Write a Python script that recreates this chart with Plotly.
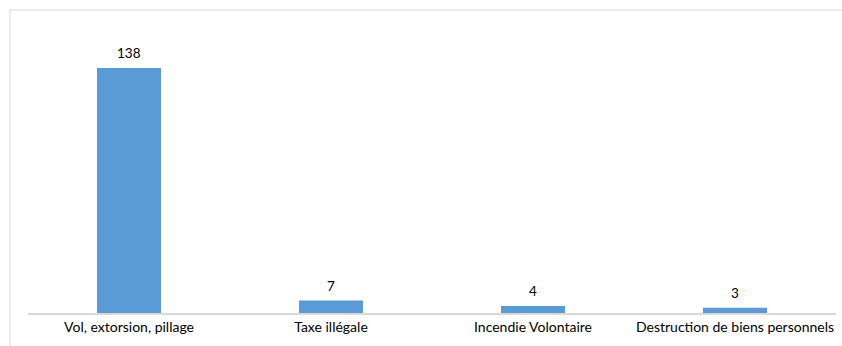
import plotly.graph_objects as go

categories = ["Vol, extorsion, pillage", "Taxe illégale", "Incendie Volontaire", "Destruction de biens personnels"]
counts = [138, 7, 4, 3]

BAR_COLOR = "#5b9bd5"
GRID_COLOR = "#d9d9d9"
FONT = "Lato"

W, H = 842, 346
ml, mr, mt, mb = 28, 6, 20, 33

fig = go.Figure(
    go.Bar(
        x=categories,
        y=counts,
        marker=dict(color=BAR_COLOR, line=dict(width=0)),
        width=0.317,
        hoverinfo="x+y",
    )
)

# value labels above each bar
for cat, val in zip(categories, counts):
    fig.add_annotation(
        x=cat, y=val, text=str(val), showarrow=False,
        yanchor="bottom", yshift=5,
        font=dict(family=FONT, size=13.5, color="#000000"),
    )

pw = W - ml - mr
ph = H - mt - mb
# chart frame (extends past the page edges on the right and bottom)
fig.add_shape(
    type="rect", xref="paper", yref="paper",
    x0=(10 - ml) / pw, x1=(W + 2 - ml) / pw,
    y0=-(mb + 2) / ph, y1=(H - mb - 10) / ph,
    line=dict(color=GRID_COLOR, width=1), fillcolor="rgba(0,0,0,0)",
    layer="below",
)

fig.update_layout(
    width=W, height=H,
    margin=dict(l=ml, r=mr, t=mt, b=mb, pad=0),
    paper_bgcolor="white", plot_bgcolor="white",
    showlegend=False,
    font=dict(family=FONT, size=14, color="#000000"),
    xaxis=dict(
        showline=True, linecolor=GRID_COLOR, linewidth=1.5,
        showgrid=False, ticks="", tickfont=dict(family=FONT, size=14),
        fixedrange=True,
    ),
    yaxis=dict(
        range=[0, 165], visible=False, showgrid=False, zeroline=False,
        fixedrange=True,
    ),
)

fig.write_html("out.html")
